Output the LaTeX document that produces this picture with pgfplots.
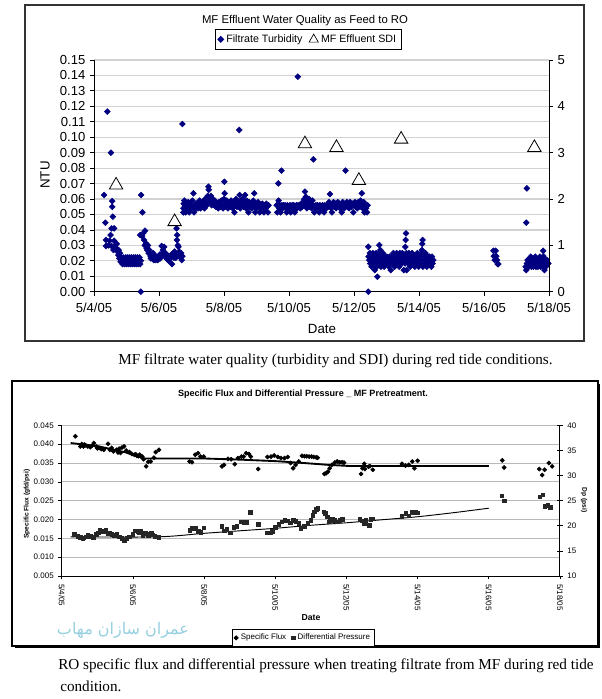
\documentclass[border=0pt]{standalone}
\usepackage{pgfplots}
\pgfplotsset{compat=1.18}
\usepackage{fontspec}
\setmainfont{Liberation Sans}
\newfontfamily\capfont{Liberation Serif}
\newfontfamily\arabicfont[Script=Arabic]{DejaVu Sans}
\TeXXeTstate=1
\definecolor{navy}{RGB}{0,0,128}
\definecolor{wmark}{RGB}{150,208,224}
\newcommand\fs[1]{\fontsize{#1}{#1}\selectfont}

\begin{document}
\begin{tikzpicture}
% frames, in reference pixels
\begin{scope}[x=0.75pt,y=-0.75pt]
\path[use as bounding box] (0,0) rectangle (602,699);
\draw[black!80, line width=0.8pt] (25,5) rectangle (584,341);
\fill[black] (14.5,383.5) rectangle (600,648);
\draw[fill=white, line width=1pt] (12,381) rectangle (598,646);
\end{scope}

% ---------- chart 1: turbidity (left) ----------
\begin{axis}[
  at={(70.5pt,-45pt)}, anchor=north west, scale only axis,
  width=341.25pt, height=173.8pt,
  xmin=0, xmax=14, ymin=0, ymax=0.15,
  axis x line*=bottom, axis y line*=left,
  axis line style={-, black, line width=0.7pt},
  xtick={0,2,4,6,8,10,12,14},
  xticklabels={5/4/05,5/6/05,5/8/05,5/10/05,5/12/05,5/14/05,5/16/05,5/18/05},
  ytick={0,0.01,0.02,0.03,0.04,0.05,0.06,0.07,0.08,0.09,0.10,0.11,0.12,0.13,0.14,0.15},
  scaled y ticks=false,
  yticklabel style={/pgf/number format/fixed, /pgf/number format/fixed zerofill,
    /pgf/number format/precision=2, /pgf/number format/assume math mode=true},
  ticklabel style={font=\fs{9.8pt}},
  xticklabel style={yshift=-2pt},
  tick align=outside, major tick length=3pt,
  tick style={black, line width=0.6pt},
  ymajorgrids, major grid style={gray!35, line width=0.9pt},
  clip=false,
  legend columns=2,
  legend style={at={(0.471,1.043)}, anchor=south, draw=black, line width=0.6pt,
    font=\fs{8pt}, inner sep=2pt,
    /tikz/every even column/.append style={column sep=3pt}},
  legend cell align=left,
]
\addplot[only marks, mark=square*, mark size=1.55pt, color=navy,
  mark options={rotate=45}] coordinates {
(0.31,0.0626)(0.35,0.0447)(0.37,0.0335)(0.37,0.0296)(0.41,0.1166)(0.45,0.0300)(0.48,0.0330)(0.51,0.0367)
(0.52,0.0900)(0.54,0.0410)(0.54,0.0296)(0.56,0.0587)(0.56,0.0550)(0.58,0.0486)(0.60,0.0270)(0.62,0.0410)
(0.62,0.0330)(0.65,0.0296)(0.68,0.0280)(0.70,0.0310)(0.72,0.0260)(0.75,0.0237)(0.76,0.0270)(0.78,0.0216)
(0.80,0.0250)(0.82,0.0194)
(0.84,0.0222)(0.86,0.0201)(0.88,0.0179)(0.90,0.0222)(0.92,0.0201)(0.94,0.0179)(0.96,0.0201)(0.98,0.0222)
(1.00,0.0179)(1.02,0.0201)(1.04,0.0222)(1.06,0.0179)(1.08,0.0201)(1.10,0.0222)(1.12,0.0179)(1.14,0.0201)
(1.16,0.0222)(1.18,0.0179)(1.20,0.0201)(1.22,0.0222)(1.24,0.0179)(1.26,0.0201)(1.28,0.0222)(1.30,0.0179)
(1.32,0.0201)(1.34,0.0222)(1.36,0.0179)(1.38,0.0201)(1.40,0.0222)(1.42,0.0179)(1.44,0.0201)
(1.44,0.0000)(1.45,0.0626)(1.49,0.0514)(1.42,0.0367)(1.48,0.0360)(1.52,0.0380)(1.57,0.0395)(1.54,0.0335)
(1.56,0.0300)(1.60,0.0313)(1.62,0.0280)(1.64,0.0270)(1.66,0.0300)(1.68,0.0250)(1.70,0.0270)(1.72,0.0248)
(1.74,0.0230)(1.75,0.0216)
(1.78,0.0227)(1.80,0.0216)(1.82,0.0250)(1.84,0.0205)(1.86,0.0227)(1.88,0.0216)(1.90,0.0205)(1.92,0.0227)
(1.94,0.0216)(1.96,0.0205)(1.98,0.0227)(2.00,0.0216)(2.02,0.0240)(2.04,0.0216)
(2.08,0.0296)(2.10,0.0250)(2.12,0.0270)(2.14,0.0240)(2.16,0.0290)(2.18,0.0230)(2.20,0.0250)(2.22,0.0220)
(2.24,0.0240)(2.26,0.0210)(2.28,0.0230)(2.30,0.0200)(2.34,0.0220)(2.36,0.0220)(2.38,0.0240)(2.40,0.0179)
(2.42,0.0230)(2.44,0.0250)(2.46,0.0220)(2.48,0.0260)(2.50,0.0240)(2.52,0.0220)(2.54,0.0410)(2.56,0.0367)
(2.55,0.0335)(2.58,0.0300)(2.60,0.0290)(2.62,0.0260)(2.64,0.0240)(2.66,0.0220)(2.68,0.0250)(2.70,0.0205)
(2.72,0.0230)(2.72,0.1086)
(2.75,0.0514)(2.75,0.0540)(2.76,0.0570)(2.78,0.0590)(2.80,0.0550)(2.82,0.0514)(2.85,0.0560)(2.88,0.0540)
(2.90,0.0580)(2.93,0.0514)(2.95,0.0550)(2.98,0.0560)(3.00,0.0540)(3.03,0.0590)(3.06,0.0637)(3.05,0.0550)
(3.08,0.0514)(3.10,0.0560)(3.13,0.0540)(3.15,0.0570)(3.18,0.0550)(3.20,0.0540)(3.23,0.0560)(3.25,0.0590)
(3.28,0.0540)(3.30,0.0560)(3.33,0.0550)(3.35,0.0580)(3.38,0.0560)(3.40,0.0540)(3.42,0.0600)(3.45,0.0580)
(3.47,0.0560)(3.50,0.0620)(3.52,0.0680)(3.53,0.0660)(3.55,0.0600)(3.57,0.0580)(3.60,0.0620)(3.62,0.0560)
(3.65,0.0600)(3.67,0.0580)(3.70,0.0560)(3.72,0.0590)(3.75,0.0550)(3.77,0.0570)(3.80,0.0560)(3.82,0.0540)
(3.85,0.0580)(3.87,0.0560)(3.90,0.0550)(3.92,0.0590)(3.95,0.0560)(3.97,0.0540)(4.00,0.0600)(4.01,0.0712)
(4.02,0.0637)(4.04,0.0570)(4.06,0.0550)(4.08,0.0590)(4.10,0.0560)(4.12,0.0540)(4.15,0.0580)(4.17,0.0560)
(4.20,0.0550)(4.22,0.0590)(4.25,0.0560)(4.27,0.0540)(4.30,0.0580)(4.32,0.0514)(4.35,0.0560)(4.37,0.0600)
(4.40,0.0550)(4.42,0.0580)(4.45,0.0560)(4.47,0.1047)(4.48,0.0626)(4.50,0.0540)(4.52,0.0590)(4.55,0.0560)
(4.57,0.0600)(4.60,0.0550)(4.62,0.0580)(4.65,0.0626)(4.66,0.0560)(4.68,0.0540)(4.70,0.0590)(4.72,0.0560)
(4.75,0.0514)(4.77,0.0580)(4.80,0.0550)(4.82,0.0570)(4.85,0.0540)(4.87,0.0560)(4.90,0.0590)(4.93,0.0637)
(4.94,0.0550)(4.96,0.0514)(4.98,0.0570)(5.00,0.0540)(5.03,0.0560)(5.05,0.0580)(5.08,0.0550)(5.10,0.0514)
(5.12,0.0560)(5.15,0.0540)(5.18,0.0570)(5.20,0.0550)(5.23,0.0514)(5.25,0.0560)(5.28,0.0540)(5.30,0.0570)
(5.33,0.0550)(5.35,0.0514)(5.37,0.0560)
(5.62,0.0560)(5.64,0.0514)(5.67,0.0701)(5.68,0.0590)(5.70,0.0540)(5.72,0.0560)(5.74,0.0514)(5.77,0.0784)
(5.78,0.0560)(5.80,0.0540)(5.83,0.0560)(5.85,0.0550)(5.88,0.0560)(5.90,0.0540)(5.93,0.0514)(5.95,0.0560)
(5.98,0.0550)(6.00,0.0540)(6.03,0.0560)(6.05,0.0514)(6.08,0.0550)(6.10,0.0560)(6.13,0.0540)(6.15,0.0560)
(6.18,0.0514)(6.20,0.0550)(6.23,0.0560)(6.25,0.0540)(6.27,0.1392)(6.28,0.0560)(6.30,0.0550)(6.33,0.0560)
(6.35,0.0540)(6.38,0.0560)(6.40,0.0550)(6.42,0.0580)(6.45,0.0560)(6.47,0.0600)(6.49,0.0648)(6.50,0.0560)
(6.52,0.0615)(6.54,0.0594)(6.55,0.0540)(6.57,0.0580)(6.60,0.0560)(6.62,0.0600)(6.64,0.0550)(6.66,0.0580)
(6.68,0.0560)(6.70,0.0540)(6.72,0.0590)(6.75,0.0857)(6.75,0.0560)(6.78,0.0514)(6.80,0.0550)(6.83,0.0560)
(6.85,0.0540)(6.88,0.0560)(6.90,0.0550)(6.93,0.0514)(6.95,0.0560)(6.98,0.0540)(7.00,0.0550)(7.03,0.0560)
(7.05,0.0540)(7.08,0.0514)(7.10,0.0560)(7.13,0.0550)(7.15,0.0540)(7.18,0.0560)(7.20,0.0550)(7.23,0.0580)
(7.26,0.0632)(7.27,0.0560)(7.30,0.0540)(7.32,0.0514)(7.35,0.0560)(7.37,0.0580)(7.40,0.0550)(7.42,0.0570)
(7.45,0.0540)(7.47,0.0560)(7.50,0.0580)(7.52,0.0550)(7.55,0.0570)(7.57,0.0540)(7.60,0.0560)(7.62,0.0514)
(7.65,0.0580)(7.67,0.0560)(7.70,0.0540)(7.72,0.0570)(7.74,0.0784)(7.75,0.0560)(7.78,0.0580)(7.80,0.0550)
(7.83,0.0560)(7.85,0.0540)(7.88,0.0580)(7.90,0.0560)(7.93,0.0550)(7.95,0.0570)(7.98,0.0514)(8.00,0.0560)
(8.03,0.0580)(8.05,0.0550)(8.08,0.0560)(8.10,0.0540)(8.13,0.0580)(8.15,0.0560)(8.18,0.0550)(8.20,0.0590)
(8.24,0.0637)(8.25,0.0560)(8.27,0.0540)(8.30,0.0580)(8.32,0.0514)(8.35,0.0560)(8.37,0.0540)(8.40,0.0514)
(8.42,0.0560)
(8.44,0.0000)(8.44,0.0291)(8.45,0.0227)(8.47,0.0205)(8.49,0.0250)(8.50,0.0183)(8.52,0.0227)(8.54,0.0162)
(8.56,0.0205)(8.58,0.0250)(8.60,0.0183)(8.62,0.0227)(8.64,0.0140)(8.66,0.0205)(8.68,0.0250)(8.70,0.0162)
(8.72,0.0097)(8.72,0.0227)(8.74,0.0183)(8.76,0.0250)(8.78,0.0302)(8.79,0.0205)(8.81,0.0270)(8.83,0.0162)
(8.85,0.0227)(8.87,0.0183)(8.89,0.0250)(8.91,0.0205)(8.93,0.0162)(8.95,0.0227)(8.97,0.0183)(8.99,0.0205)
(9.01,0.0227)(9.03,0.0183)(9.05,0.0205)(9.07,0.0162)(9.09,0.0227)(9.11,0.0183)(9.13,0.0140)(9.15,0.0205)
(9.17,0.0227)(9.19,0.0183)(9.21,0.0250)(9.23,0.0205)(9.25,0.0162)(9.27,0.0227)(9.29,0.0183)(9.31,0.0250)
(9.33,0.0205)(9.35,0.0227)(9.37,0.0183)(9.39,0.0162)(9.41,0.0250)(9.43,0.0205)(9.45,0.0227)(9.47,0.0183)
(9.49,0.0250)(9.51,0.0205)(9.53,0.0140)(9.55,0.0227)(9.57,0.0183)(9.58,0.0290)(9.59,0.0335)(9.60,0.0378)
(9.61,0.0250)(9.62,0.0140)(9.63,0.0205)(9.65,0.0227)(9.67,0.0183)(9.69,0.0250)(9.71,0.0205)(9.73,0.0162)
(9.75,0.0227)(9.77,0.0183)(9.79,0.0250)(9.81,0.0205)(9.83,0.0227)(9.85,0.0183)(9.87,0.0162)(9.89,0.0227)
(9.91,0.0205)(9.93,0.0183)(9.95,0.0250)(9.97,0.0205)(9.99,0.0162)(10.01,0.0227)(10.03,0.0183)(10.05,0.0205)
(10.07,0.0250)(10.09,0.0270)(10.10,0.0310)(10.11,0.0335)(10.12,0.0162)(10.14,0.0205)(10.16,0.0227)(10.18,0.0183)
(10.20,0.0250)(10.22,0.0205)(10.24,0.0162)(10.26,0.0227)(10.28,0.0183)(10.30,0.0205)(10.32,0.0227)(10.34,0.0183)
(10.36,0.0205)(10.38,0.0162)(10.40,0.0227)(10.42,0.0183)(10.44,0.0205)
(12.29,0.0265)(12.30,0.0230)(12.33,0.0205)(12.36,0.0265)(12.38,0.0230)(12.40,0.0205)(12.42,0.0179)(12.44,0.0179)
(13.30,0.0447)(13.32,0.0669)(13.28,0.0162)(13.30,0.0140)(13.32,0.0183)(13.34,0.0205)(13.36,0.0183)(13.38,0.0162)
(13.40,0.0205)(13.42,0.0183)(13.44,0.0227)(13.46,0.0162)(13.48,0.0205)(13.50,0.0183)(13.52,0.0162)(13.54,0.0205)
(13.56,0.0183)(13.58,0.0227)(13.60,0.0162)(13.62,0.0183)(13.64,0.0205)(13.66,0.0162)(13.68,0.0183)(13.70,0.0205)
(13.72,0.0227)(13.74,0.0162)(13.76,0.0183)(13.78,0.0205)(13.80,0.0162)(13.82,0.0265)(13.83,0.0230)(13.84,0.0183)
(13.86,0.0140)(13.88,0.0205)(13.90,0.0162)(13.92,0.0183)(13.94,0.0205)(13.96,0.0183)(13.98,0.0183)
};
\addlegendentry{Filtrate Turbidity}
\addlegendimage{only marks, mark=triangle*, mark size=4pt, mark options={draw=black, fill=white, line width=0.5pt}}
\addlegendentry{MF Effluent SDI}
\end{axis}

% ---------- chart 1: SDI (right) ----------
\begin{axis}[
  at={(70.5pt,-45pt)}, anchor=north west, scale only axis,
  width=341.25pt, height=173.8pt,
  xmin=0, xmax=14, ymin=0, ymax=5,
  axis y line*=right, axis x line=none,
  axis line style={-, black, line width=0.7pt},
  ytick={0,1,2,3,4,5},
  yticklabel style={/pgf/number format/assume math mode=true},
  ticklabel style={font=\fs{9.8pt}},
  tick align=outside, major tick length=3pt,
  tick style={black, line width=0.6pt},
  clip=false,
]
\addplot[only marks, mark=triangle*, mark size=5.8pt,
  mark options={draw=black, fill=white, line width=0.6pt}] coordinates {
(0.68,2.30)(2.48,1.51)(6.49,3.19)(7.46,3.11)(8.15,2.40)(9.45,3.29)(13.55,3.11)
};
\end{axis}

% ---------- chart 2: specific flux (left) ----------
\begin{axis}[
  at={(46.35pt,-319pt)}, anchor=north west, scale only axis,
  width=373.6pt, height=113pt,
  xmin=0, xmax=14, ymin=0.005, ymax=0.045,
  axis x line*=bottom, axis y line*=left,
  axis line style={-, black, line width=0.7pt},
  xtick={0,2,4,6,8,10,12,14},
  xticklabels={5/4/05,5/6/05,5/8/05,5/10/05,5/12/05,5/14/05,5/16/05,5/18/05},
  xticklabel style={rotate=-90, anchor=west},
  ytick={0.005,0.010,0.015,0.020,0.025,0.030,0.035,0.040,0.045},
  scaled y ticks=false,
  yticklabel style={/pgf/number format/fixed, /pgf/number format/fixed zerofill,
    /pgf/number format/precision=3, /pgf/number format/assume math mode=true},
  ticklabel style={font=\fs{6pt}},
  tick align=outside, major tick length=2.5pt,
  tick style={black, line width=0.5pt},
  ymajorgrids, major grid style={gray!55, line width=0.6pt},
  clip=false,
  legend columns=2,
  legend style={at={(0.485,-0.351)}, anchor=north, draw=black, line width=0.6pt,
    font=\fs{6pt}, inner sep=1.5pt,
    /tikz/every even column/.append style={column sep=2pt}},
  legend cell align=left,
]
\addplot[only marks, mark=square*, mark size=1.1pt, color=black,
  mark options={rotate=45}] coordinates {
(0.38,0.0421)(0.52,0.0394)(0.56,0.0400)(0.61,0.0394)(0.63,0.0399)(0.67,0.0397)(0.73,0.0394)(0.80,0.0392)
(0.85,0.0396)(0.90,0.0403)(0.97,0.0394)(1.00,0.0389)(1.05,0.0390)(1.11,0.0387)(1.18,0.0385)(1.30,0.0401)
(1.35,0.0385)(1.40,0.0390)(1.45,0.0381)(1.54,0.0385)(1.58,0.0378)(1.61,0.0388)(1.65,0.0377)(1.69,0.0391)
(1.75,0.0394)(1.81,0.0383)(1.90,0.0379)(1.97,0.0374)(2.04,0.0372)(2.08,0.0373)(2.11,0.0369)(2.15,0.0368)
(2.19,0.0372)(2.22,0.0368)(2.26,0.0367)(2.30,0.0360)(2.37,0.0341)(2.43,0.0353)(2.50,0.0354)(2.59,0.0364)
(2.64,0.0379)(2.73,0.0385)
(3.59,0.0354)(3.66,0.0352)(3.75,0.0372)(3.83,0.0376)(3.90,0.0367)(3.99,0.0367)
(4.50,0.0341)(4.56,0.0345)(4.67,0.0361)(4.76,0.0360)(4.86,0.0347)(4.95,0.0363)(5.05,0.0367)(5.11,0.0367)
(5.18,0.0376)(5.26,0.0374)(5.31,0.0367)(5.52,0.0334)
(5.78,0.0366)(5.88,0.0367)(5.97,0.0370)(6.07,0.0366)(6.16,0.0363)(6.26,0.0363)(6.35,0.0366)(6.43,0.0350)
(6.50,0.0336)(6.57,0.0345)(6.66,0.0354)
(6.75,0.0369)(6.82,0.0368)(6.88,0.0368)(6.95,0.0367)(7.02,0.0367)(7.08,0.0366)(7.15,0.0365)(7.19,0.0364)
(7.38,0.0321)(7.43,0.0323)(7.48,0.0327)(7.53,0.0336)(7.59,0.0345)(7.67,0.0351)(7.74,0.0354)(7.81,0.0352)
(7.88,0.0352)(7.93,0.0351)
(8.41,0.0321)(8.45,0.0336)(8.50,0.0348)(8.52,0.0334)(8.62,0.0340)(8.66,0.0342)(8.74,0.0332)
(9.56,0.0348)(9.66,0.0343)(9.75,0.0345)(9.85,0.0354)(9.91,0.0336)(10.00,0.0356)
(12.38,0.0357)(12.43,0.0338)
(13.42,0.0334)(13.50,0.0318)(13.57,0.0332)(13.69,0.0350)(13.78,0.0341)
};
\addlegendentry{Specific Flux}
\addlegendimage{only marks, mark=square*, mark size=1.3pt, black!85}
\addlegendentry{Differential Pressure}
\addplot[black, line width=1.4pt, forget plot] coordinates {
(0.25,0.0403)(1.0,0.0395)(1.8,0.0378)(2.3,0.0362)(4.0,0.0362)(5.0,0.0359)(6.0,0.0355)
(6.8,0.0350)(7.5,0.0345)(8.1,0.0342)(12.0,0.0342)
};
\end{axis}

% ---------- chart 2: differential pressure (right) ----------
\begin{axis}[
  at={(46.35pt,-319pt)}, anchor=north west, scale only axis,
  width=373.6pt, height=113pt,
  xmin=0, xmax=14, ymin=10, ymax=40,
  axis y line*=right, axis x line=none,
  axis line style={-, black, line width=0.7pt},
  ytick={10,15,20,25,30,35,40},
  yticklabel style={/pgf/number format/assume math mode=true},
  ticklabel style={font=\fs{6pt}},
  tick align=center, major tick length=4pt,
  tick style={black, line width=0.5pt},
  clip=false,
]
\addplot[only marks, mark=square*, mark size=1.3pt, black!85] coordinates {
(0.35,18.33)(0.45,17.9)(0.52,17.67)(0.59,17.47)(0.62,17.6)(0.67,17.8)(0.73,18.2)(0.80,17.93)
(0.88,17.67)(0.97,18.33)(1.02,18.6)(1.07,19.13)(1.14,18.8)(1.19,18.9)(1.24,19.13)(1.30,18.47)
(1.35,18.6)(1.40,18.33)(1.47,18.13)(1.54,18.33)(1.62,17.8)(1.69,17.47)(1.75,17.13)(1.83,17.53)
(1.90,17.8)(1.99,18.27)(2.07,19.0)(2.13,18.8)(2.17,18.6)(2.21,18.93)(2.28,18.13)(2.35,18.47)
(2.43,18.13)(2.46,18.3)(2.51,18.47)(2.56,18.2)(2.61,17.93)(2.73,17.67)
(3.59,19.13)(3.67,19.47)(3.75,19.47)(3.83,18.93)(3.90,18.67)(3.99,19.6)
(4.50,19.93)(4.57,19.0)(4.64,19.27)(4.73,18.6)(4.83,19.73)(4.92,19.93)(5.04,20.8)(5.11,20.67)
(5.18,20.67)(5.30,22.67)(5.52,20.33)
(5.78,18.6)(5.86,18.6)(5.92,18.93)(6.00,19.67)(6.10,20.33)(6.18,20.8)(6.26,21.13)(6.35,21.0)
(6.42,20.6)(6.50,21.13)(6.57,20.93)(6.66,20.47)
(6.72,19.47)(6.81,19.93)(6.91,20.47)(6.99,21.13)(7.05,22.13)(7.10,22.8)(7.15,23.27)(7.19,23.47)
(7.36,22.8)(7.41,22.47)(7.46,21.8)(7.51,20.8)(7.55,21.13)(7.60,21.33)(7.67,21.13)(7.74,20.8)
(7.81,21.13)(7.88,21.33)
(8.38,21.27)(8.45,21.0)(8.50,20.47)(8.55,21.13)(8.64,20.13)(8.69,21.27)(8.74,21.4)
(9.56,21.93)(9.66,22.47)(9.75,22.0)(9.85,22.73)(9.94,22.67)(10.01,22.6)
(12.37,25.93)(12.43,24.93)
(13.43,25.8)(13.51,26.13)(13.58,23.93)(13.66,24.13)(13.73,23.67)
};
\addplot[black, line width=0.7pt, smooth] coordinates {
(0.25,17.8)(2.7,17.8)(4.0,18.5)(5.0,19.0)(6.0,19.5)(7.0,20.1)(8.0,20.6)(9.0,21.2)
(10.0,21.8)(11.0,22.6)(12.0,23.5)
};
\end{axis}

% ---------- texts ----------
\begin{scope}[x=0.75pt,y=-0.75pt]
\node at (305,21) {\fs{8.5pt}MF Effluent Water Quality as Feed to RO};
\node[rotate=90] at (45,175) {\fs{10pt}NTU};
\node at (322,329) {\fs{10pt}Date};
\node[anchor=west, inner sep=0pt] at (118,361) {\capfont\fs{11.4pt}MF filtrate water quality (turbidity and SDI) during red tide conditions.};
\node at (303,394) {\fs{6.8pt}\bfseries Specific Flux and Differential Pressure \_ MF Pretreatment.};
\node[rotate=90] at (27,504) {\fs{5pt}\bfseries Specific Flux (gfd/psi)};
\node[rotate=-90] at (584,500) {\fs{5pt}\bfseries Dp (psi)};
\node at (311,618) {\fs{6.5pt}\bfseries Date};
\node[text=wmark] at (123,630) {\arabicfont\fs{12pt}\beginR عمران سازان مهاب\endR};
\node[anchor=west, inner sep=0pt] at (58,666) {\capfont\fs{11.4pt}RO specific flux and differential pressure when treating filtrate from MF during red tide};
\node[anchor=west, inner sep=0pt] at (60,686) {\capfont\fs{11.4pt}condition.};
\end{scope}
\end{tikzpicture}
\end{document}
